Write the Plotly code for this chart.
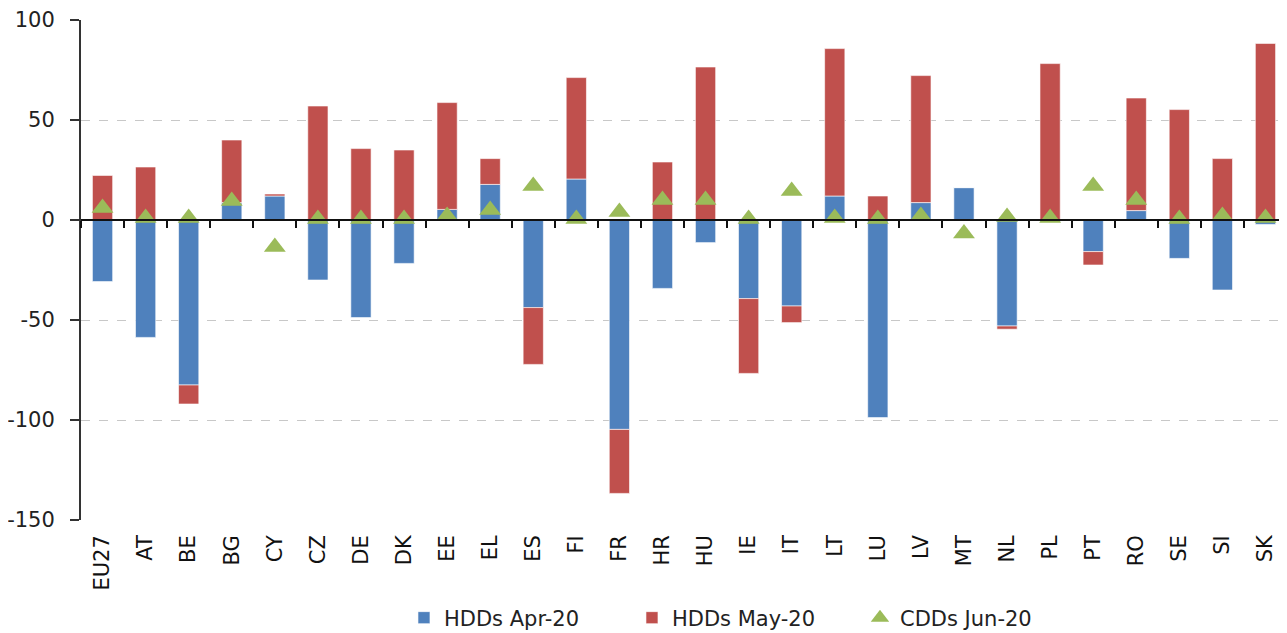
import plotly.graph_objects as go

countries = ["EU27", "AT", "BE", "BG", "CY", "CZ", "DE", "DK", "EE", "EL", "ES", "FI", "FR", "HR",
             "HU", "IE", "IT", "LT", "LU", "LV", "MT", "NL", "PL", "PT", "RO", "SE", "SI", "SK"]
hdds_apr = [-30.8, -58.7, -82.5, 8.7, 12.0, -30.0, -48.8, -21.7, 5.3, 17.8, -43.8, 20.5, -104.7, -34.2,
            -11.3, -39.3, -43.0, 12.0, -98.8, 8.7, 16.2, -53.0, -1.0, -15.8, 4.7, -19.2, -35.0, -2.2]
hdds_may = [22.3, 26.5, -9.5, 31.3, 1.0, 57.0, 35.7, 35.0, 53.4, 12.9, -28.4, 50.7, -32.0, 29.0,
            76.5, -37.4, -8.3, 73.7, 12.0, 63.5, 0.0, -1.6, 78.2, -6.7, 56.3, 55.2, 30.7, 88.3]
cdds_jun = [6.0, 1.0, 1.0, 9.5, -13.5, 0.5, 0.5, 0.5, 2.0, 5.0, 17.0, 0.5, 4.0, 10.0,
            10.0, 0.5, 14.5, 1.0, 0.5, 2.0, -6.8, 1.5, 1.0, 17.0, 10.0, 0.5, 2.0, 1.0]
y_ticks = [100, 50, 0, -50, -100, -150]
y_tick_text = ["100", "50", "0", "-50", "-100", "-150"]

BLUE = "#4F81BD"
RED = "#C0504D"
GREEN = "#9BBB59"
FONT = "DejaVu Sans"

n = len(countries)
x_range = [-0.5, n - 0.5]

fig = go.Figure()
fig.add_trace(go.Bar(x=countries, y=hdds_apr, name="HDDs Apr-20",
                     marker=dict(color=BLUE, line=dict(color="rgba(255,255,255,0.6)", width=1))))
fig.add_trace(go.Bar(x=countries, y=hdds_may, name="HDDs May-20",
                     marker=dict(color=RED, line=dict(color="rgba(255,255,255,0.6)", width=1))))
fig.add_trace(go.Scatter(x=countries, y=cdds_jun, name="CDDs Jun-20", mode="markers",
                         marker=dict(symbol="triangle-up", size=19, color=GREEN)))
# helper trace for the zero-line category axis (ticks between categories)
fig.add_trace(go.Scatter(x=countries, y=[0] * n, xaxis="x2", mode="markers",
                         marker=dict(opacity=0), showlegend=False, hoverinfo="skip"))

fig.update_layout(
    width=1279, height=625,
    barmode="relative",
    bargap=0.53,
    plot_bgcolor="white",
    paper_bgcolor="white",
    margin=dict(l=73, r=0, t=12, b=113),
    font=dict(family=FONT, size=21, color="#222222"),
    xaxis=dict(categoryorder="array", categoryarray=countries, range=x_range, tickangle=-90,
               showline=False, ticks="", showgrid=False, automargin=False,
               ticklabelstandoff=10,
               tickfont=dict(family=FONT, size=21, color="#111111")),
    xaxis2=dict(overlaying="x", categoryorder="array", categoryarray=countries, range=x_range,
                anchor="free", position=0.6, side="bottom", automargin=False,
                showticklabels=False, showline=True, linecolor="#111111", linewidth=2,
                ticks="outside", tickson="boundaries", ticklen=7, tickwidth=2, tickcolor="#111111",
                showgrid=False, zeroline=False),
    yaxis=dict(range=[-150, 100], tickvals=y_ticks, ticktext=y_tick_text,
               showgrid=True, gridcolor="#c8c8c8", automargin=False,
               griddash="dash", gridwidth=1, zeroline=False,
               showline=True, linecolor="#333333", linewidth=2,
               ticks="outside", ticklen=9, tickwidth=2, tickcolor="#333333",
               ticklabelstandoff=11,
               tickfont=dict(family=FONT, size=21, color="#222222")),
    legend=dict(orientation="h", xref="container", x=0.577, xanchor="center",
                yref="container", y=0.024, yanchor="middle",
                font=dict(family=FONT, size=21, color="#222222"),
                entrywidth=183, traceorder="normal", itemwidth=30),
    showlegend=True,
)

fig.write_html("out.html")
